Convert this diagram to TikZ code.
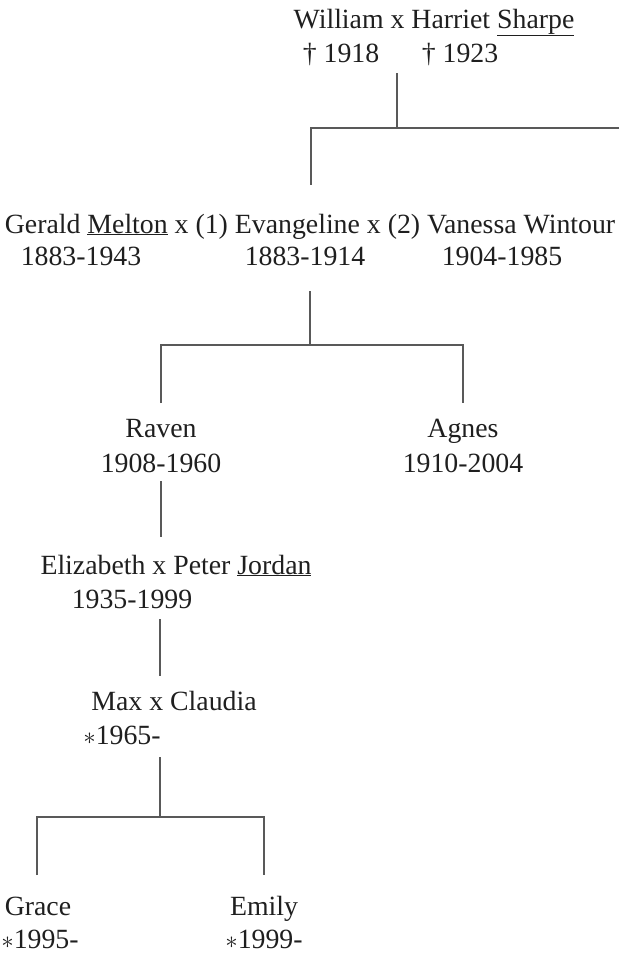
\documentclass[tikz,border=0pt]{standalone}
\usepackage{fontspec}
\setmainfont{Liberation Serif}

\begin{document}
\begin{tikzpicture}[x=1pt,y=-1pt,font=\fontsize{27.8}{34}\selectfont,
  person/.style={anchor=base,inner sep=0pt,text=black!88},
  link/.style={draw=black!65,line width=1.1pt}]
  \useasboundingbox (0,0) rectangle (619,953);
  % generation 1
  \node[person] (sharpe) at (434,28) {William x Harriet \underline{Sharpe}};
  \node[person] (william) at (341,62) {† 1918};
  \node[person] (harriet) at (460,62) {† 1923};
  % generation 2
  \node[person] (melton) at (310,233) {Gerald \underline{Melton} x (1) Evangeline x (2) Vanessa Wintour};
  \node[person] (gerald) at (81,265) {1883-1943};
  \node[person] (evangeline) at (305,265) {1883-1914};
  \node[person] (vanessa) at (502,265) {1904-1985};
  % generation 3
  \node[person] (raven) at (161,437) {Raven};
  \node[person] (ravenyr) at (161,472) {1908-1960};
  \node[person] (agnes) at (463,437) {Agnes};
  \node[person] (agnesyr) at (463,472) {1910-2004};
  % generation 4
  \node[person] (jordan) at (176,574) {Elizabeth x Peter \underline{Jordan}};
  \node[person] (elizabeth) at (132,608) {1935-1999};
  % generation 5
  \node[person] (claudia) at (174,710) {Max x Claudia};
  \node[person] (max) at (122,744) {$\ast$1965-};
  % generation 6
  \node[person] (grace) at (38,915) {Grace};
  \node[person] (graceyr) at (40,948) {$\ast$1995-};
  \node[person] (emily) at (264,915) {Emily};
  \node[person] (emilyyr) at (264,948) {$\ast$1999-};

  \coordinate (g1a) at (397,73);
  \coordinate (g1r) at (619,128);
  \coordinate (g1b) at (311,185);
  \draw[link] (g1a) -- (g1a |- g1r);
  \draw[link] (g1r) -| (g1b);

  \coordinate (g2a) at (310,291);
  \coordinate (g2bar) at (310,345);
  \coordinate (g2l) at (161,403);
  \coordinate (g2r) at (463,403);
  \draw[link] (g2a) -- (g2bar);
  \draw[link] (g2l) |- (g2bar) -| (g2r);

  \coordinate (g3a) at (161,481);
  \coordinate (g3b) at (161,537);
  \draw[link] (g3a) -- (g3b);

  \coordinate (g4a) at (160,619);
  \coordinate (g4b) at (160,676);
  \draw[link] (g4a) -- (g4b);

  \coordinate (g5a) at (160,757);
  \coordinate (g5bar) at (160,817);
  \coordinate (g5l) at (37,875);
  \coordinate (g5r) at (264,875);
  \draw[link] (g5a) -- (g5bar);
  \draw[link] (g5l) |- (g5bar) -| (g5r);
\end{tikzpicture}
\end{document}
